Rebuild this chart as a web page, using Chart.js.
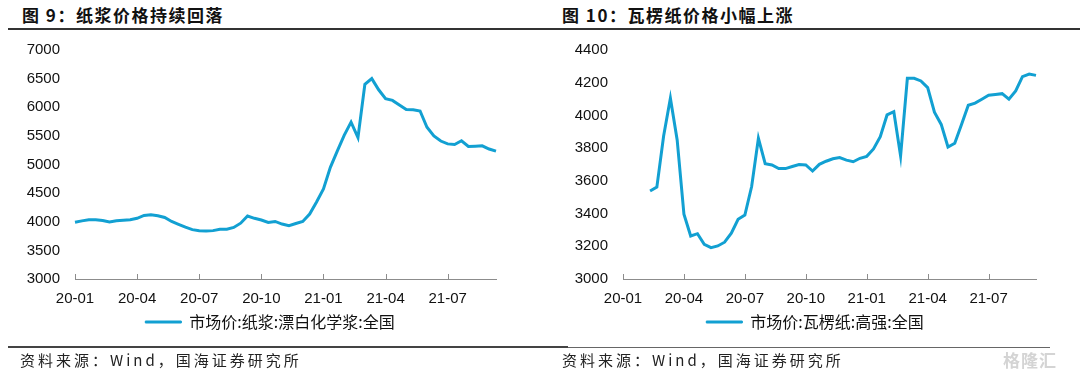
<!DOCTYPE html>
<html>
<head>
<meta charset="utf-8">
<script src="https://cdn.jsdelivr.net/npm/chart.js@4.4.0/dist/chart.umd.min.js"></script>
<style>
body{margin:0;background:#fff;}
#page{position:relative;width:1080px;height:375px;overflow:hidden;font-family:"Noto Sans CJK SC",sans-serif;}
.ttl{position:absolute;top:2px;font-size:17px;font-weight:bold;color:#111;letter-spacing:1.5px;}
.src{position:absolute;top:349px;font-size:15px;color:#222;letter-spacing:3px;}
.box{position:absolute;top:0;width:540px;height:375px;}
.rule{position:absolute;background:#333;}
.wm{position:absolute;left:1003px;top:347px;font-size:17px;color:#d4d4d4;font-weight:bold;letter-spacing:1px;}
</style>
</head>
<body>
<div id="page">
  <div class="ttl" style="left:22px">图 9：纸浆价格持续回落</div>
  <div class="ttl" style="left:562px">图 10：瓦楞纸价格小幅上涨</div>
  <div class="rule" style="left:8px;top:28px;width:1072px;height:1.5px"></div>
  <div class="box" style="left:0"><canvas id="pulp"></canvas></div>
  <div class="box" style="left:540px"><canvas id="board"></canvas></div>
  <div class="rule" style="left:8px;top:346px;width:560px;height:2px;background:#444"></div>
  <div class="rule" style="left:568px;top:347px;width:482px;height:1px;background:#666"></div>
  <div class="src" style="left:20px">资料来源：Wind，国海证券研究所</div>
  <div class="src" style="left:562px">资料来源：Wind，国海证券研究所</div>
  <div class="wm">格隆汇</div>
</div>
<script>
// 旬度日期 (每月 1/11/21 日)
const dates = [
  '20-01-01','20-01-11','20-01-21','20-02-01','20-02-11','20-02-21','20-03-01','20-03-11','20-03-21',
  '20-04-01','20-04-11','20-04-21','20-05-01','20-05-11','20-05-21','20-06-01','20-06-11','20-06-21',
  '20-07-01','20-07-11','20-07-21','20-08-01','20-08-11','20-08-21','20-09-01','20-09-11','20-09-21',
  '20-10-01','20-10-11','20-10-21','20-11-01','20-11-11','20-11-21','20-12-01','20-12-11','20-12-21',
  '21-01-01','21-01-11','21-01-21','21-02-01','21-02-11','21-02-21','21-03-01','21-03-11','21-03-21',
  '21-04-01','21-04-11','21-04-21','21-05-01','21-05-11','21-05-21','21-06-01','21-06-11','21-06-21',
  '21-07-01','21-07-11','21-07-21','21-08-01','21-08-11','21-08-21','21-09-01','21-09-11'
];
const xTicks = ['20-01','20-04','20-07','20-10','21-01','21-04','21-07'];

// 市场价:纸浆:漂白化学浆:全国
const pulpPrice = [
  3990,4015,4035,4035,4020,3995,4017,4025,4035,4060,
  4110,4120,4105,4075,4005,3955,3905,3862,3842,3840,
  3845,3870,3870,3900,3975,4100,4060,4030,3988,4005,
  3960,3930,3970,4005,4135,4345,4573,4950,5235,5510,
  5740,5470,6400,6500,6305,6150,6120,6040,5962,5955,
  5935,5650,5500,5410,5360,5350,5415,5315,5320,5327,
  5270,5233
];
// 市场价:瓦楞纸:高强:全国
const boardPrice = [
  null,null,null,null,3538,3562,3874,4105,3850,3396,
  3263,3277,3212,3192,3202,3225,3280,3365,3391,3565,
  3860,3705,3697,3675,3675,3688,3700,3697,3660,3701,
  3720,3735,3742,3727,3717,3738,3750,3795,3870,4003,
  4023,3752,4227,4227,4211,4170,4020,3945,3807,3830,
  3945,4062,4075,4099,4123,4128,4133,4099,4150,4237,
  4253,4245
];
const pulpTicks = {min:3000, max:7000, step:500};
const boardTicks = {min:3000, max:4400, step:200};

const BLUE = '#12a0d2';
const AXIS = '#8c8c8c';
const numFont = {family:'"Liberation Sans", Arial, sans-serif', size:15};

// 刻度线朝内画
const innerTicks = {
  id:'innerTicks',
  beforeDatasetsDraw(chart){
    const s = chart.scales.x, ctx = chart.ctx;
    ctx.save(); ctx.strokeStyle = AXIS; ctx.lineWidth = 1;
    s.ticks.forEach((t,i)=>{
      const x = Math.round(s.getPixelForTick(i))+0.5;
      ctx.beginPath(); ctx.moveTo(x, s.top); ctx.lineTo(x, s.top-5); ctx.stroke();
    });
    ctx.restore();
  }
};
// 图例整体右移一点
const legendShift = dx => ({
  id:'legendShift',
  afterLayout(chart){ chart.legend.left += dx; chart.legend.right += dx; }
});

function makeChart(id, values, name, yt, axisW, dx){
  return new Chart(document.getElementById(id), {
    type:'line',
    data:{ labels:dates, datasets:[{ label:name, data:values, borderColor:BLUE, backgroundColor:BLUE,
      borderWidth:3, pointRadius:0, tension:0 }] },
    options:{
      responsive:true, maintainAspectRatio:false, animation:false,
      layout:{ padding:{ top:50, right:44, bottom:35, left:0 } },
      plugins:{
        tooltip:{enabled:false},
        legend:{ position:'bottom', labels:{ boxWidth:36, boxHeight:2, padding:5, color:'#111',
          font:{family:'"Noto Sans CJK SC", sans-serif', size:16},
          generateLabels: ch => Chart.defaults.plugins.legend.labels.generateLabels(ch).map(l => ({...l, lineWidth:1})) } }
      },
      scales:{
        x:{
          grid:{display:true, drawOnChartArea:false, drawTicks:false},
          border:{display:true, color:AXIS, width:1},
          ticks:{autoSkip:false, maxRotation:0, padding:11, color:'#111', font:numFont,
            callback(v){ return this.getLabelForValue(v).slice(0,5); }},
          afterBuildTicks: s => { s.ticks = s.ticks.filter(t => xTicks.map(m => m+'-01').includes(dates[t.value])); },
          afterFit: s => { s.height = 30; }
        },
        y:{
          min:yt.min, max:yt.max,
          grid:{display:false, drawTicks:false},
          border:{display:false},
          ticks:{stepSize:yt.step, padding:15, color:'#111', font:numFont, callback: v => String(v)},
          afterFit: s => { s.width = axisW; }
        }
      }
    },
    plugins:[innerTicks, legendShift(dx)]
  });
}

makeChart('pulp', pulpPrice, '市场价:纸浆:漂白化学浆:全国', pulpTicks, 75, 22);
makeChart('board', boardPrice, '市场价:瓦楞纸:高强:全国', boardTicks, 83, 27);
</script>
</body>
</html>
